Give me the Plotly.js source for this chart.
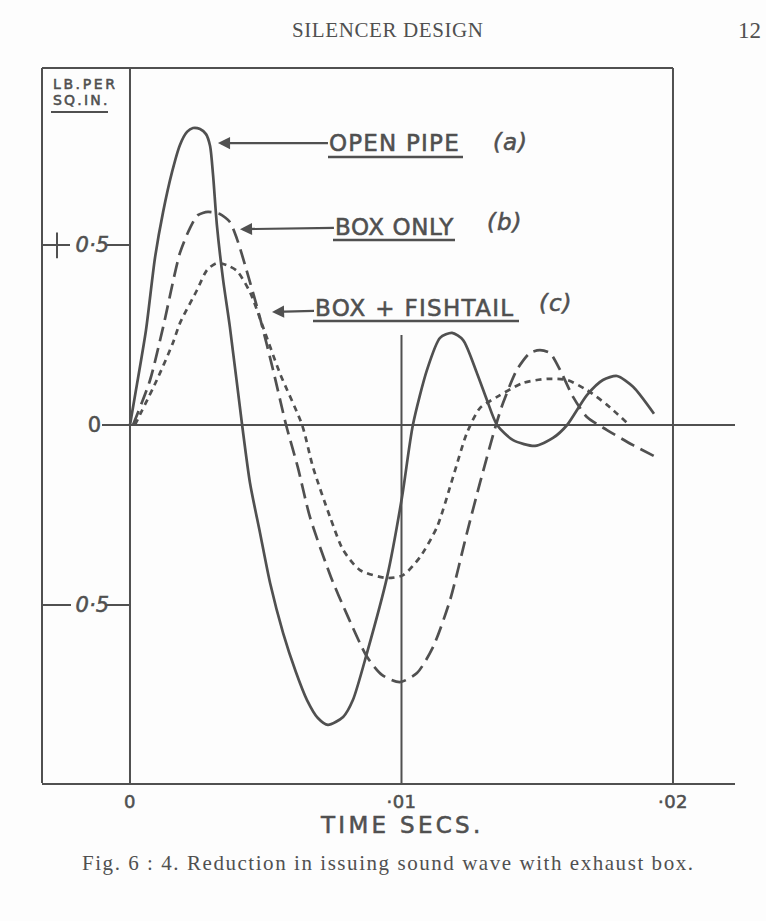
<!DOCTYPE html>
<html><head><meta charset="utf-8">
<script src="https://cdn.plot.ly/plotly-3.0.1.min.js"></script>
<style>html,body{margin:0;padding:0;background:#fdfdfd;}#chart{width:766px;height:921px;}</style>
</head><body><div id="chart"></div>
<script>
// ---- data (time in seconds, pressure in lb per sq.in.) ----
const timeOpenPipe = [0, 0.00022, 0.00059, 0.00092, 0.00122, 0.00155, 0.00184, 0.0021, 0.00232, 0.00258, 0.0028, 0.00295, 0.00306, 0.0032, 0.00343, 0.00368, 0.00413, 0.00442, 0.00479, 0.00516, 0.00564, 0.00611, 0.00652, 0.00692, 0.00729, 0.00785, 0.00821, 0.00873, 0.00947, 0.01002, 0.01042, 0.01094, 0.01142, 0.01186, 0.01227, 0.01278, 0.01315, 0.01352, 0.01411, 0.01492, 0.01558, 0.0161, 0.01683, 0.01742, 0.01794, 0.01853, 0.0193];
const pressOpenPipe = [0, 0.097, 0.264, 0.464, 0.592, 0.703, 0.778, 0.814, 0.825, 0.822, 0.808, 0.775, 0.694, 0.556, 0.403, 0.272, 0, -0.161, -0.3, -0.439, -0.578, -0.686, -0.764, -0.814, -0.833, -0.811, -0.764, -0.633, -0.422, -0.2, 0, 0.153, 0.242, 0.256, 0.236, 0.144, 0.069, 0, -0.042, -0.058, -0.036, 0, 0.083, 0.125, 0.136, 0.106, 0.031];

const timeBoxOnly = [0.00011, 0.00074, 0.00122, 0.00184, 0.00221, 0.0025, 0.00287, 0.00331, 0.00368, 0.00394, 0.00424, 0.00479, 0.00527, 0.00575, 0.00618, 0.00663, 0.0074, 0.00803, 0.00873, 0.00928, 0.00994, 0.01057, 0.01116, 0.01179, 0.01241, 0.01289, 0.01348, 0.01374, 0.01425, 0.01473, 0.0151, 0.01547, 0.01584, 0.01632, 0.01683, 0.01757, 0.01853, 0.01945];
const pressBoxOnly = [0, 0.125, 0.272, 0.478, 0.547, 0.583, 0.592, 0.586, 0.564, 0.517, 0.444, 0.297, 0.153, 0, -0.117, -0.256, -0.422, -0.533, -0.644, -0.694, -0.714, -0.689, -0.617, -0.486, -0.3, -0.161, 0, 0.061, 0.153, 0.2, 0.208, 0.2, 0.153, 0.078, 0.022, -0.014, -0.056, -0.092];

const timeFishtail = [0.00018, 0.00099, 0.00158, 0.00184, 0.00247, 0.00284, 0.0032, 0.00357, 0.00394, 0.00442, 0.0049, 0.00552, 0.00634, 0.00674, 0.00737, 0.00785, 0.00847, 0.00947, 0.01006, 0.01068, 0.01131, 0.0119, 0.01241, 0.01289, 0.01352, 0.01448, 0.01536, 0.0161, 0.01683, 0.01757, 0.01831];
const pressFishtail = [0, 0.125, 0.228, 0.283, 0.375, 0.431, 0.45, 0.444, 0.428, 0.369, 0.272, 0.144, 0, -0.117, -0.256, -0.347, -0.403, -0.425, -0.417, -0.367, -0.283, -0.144, -0.022, 0.047, 0.078, 0.117, 0.128, 0.125, 0.097, 0.056, 0.006];

const seriesNames = ["OPEN PIPE", "BOX ONLY", "BOX + FISHTAIL"];
const seriesTags = ["(a)", "(b)", "(c)"];
const xTickVals = [0, 0.01, 0.02];
const xTickText = ["0", "·01", "·02"];
const yTickVals = [0.5, 0, -0.5];
const yTickText = ["0·5", "0", "0·5"];
const xTitle = "TIME SECS.";
const yUnits = ["LB.PER", "SQ.IN."];

// ---- layout helpers ----
const INK = "#505050";
const HAND = "DejaVu Sans";
const SERIF = "Liberation Serif";
const PX = px => (px - 42) / 693;
const PY = py => (783 - py) / 715;
const XMIN = -0.003241, XMAX = 0.022284, YMIN = -0.99444, YMAX = 0.99167;

const traces = [
  {x: timeOpenPipe, y: pressOpenPipe, name: seriesNames[0] + " " + seriesTags[0], mode: "lines",
   line: {color: INK, width: 2.7, shape: "spline", smoothing: 0.7}},
  {x: timeBoxOnly, y: pressBoxOnly, name: seriesNames[1] + " " + seriesTags[1], mode: "lines",
   line: {color: INK, width: 2.7, shape: "spline", smoothing: 0.7, dash: "15px,7px"}},
  {x: timeFishtail, y: pressFishtail, name: seriesNames[2] + " " + seriesTags[2], mode: "lines",
   line: {color: INK, width: 2.7, shape: "spline", smoothing: 0.7, dash: "6px,5px"}}
];

const ln = (o) => Object.assign({type: "line", layer: "below", line: {color: INK, width: 2}}, o);
const shapes = [
  ln({xref: "paper", yref: "paper", x0: 0, x1: PX(673), y0: 1, y1: 1}),          // top frame
  ln({xref: "paper", yref: "paper", x0: 0, x1: 0, y0: 0, y1: 1}),                // left frame
  ln({xref: "x", yref: "paper", x0: 0.02, x1: 0.02, y0: 0, y1: 1}),              // right frame (.02)
  ln({xref: "x", yref: "paper", x0: 0, x1: 0, y0: 0, y1: 1}),                    // time zero line
  ln({xref: "x", yref: "y", x0: 0.01, x1: 0.01, y0: YMIN, y1: 0.25}),            // .01 line
  ln({xref: "paper", yref: "y", x0: PX(102), x1: 1, y0: 0, y1: 0}),              // pressure zero
  ln({xref: "paper", yref: "y", x0: 0, x1: PX(70), y0: 0.5, y1: 0.5}),           // +0.5 left
  ln({xref: "paper", yref: "y", x0: PX(57), x1: PX(57), y0: 0.463, y1: 0.535}),  // plus cross
  ln({xref: "paper", yref: "y", x0: PX(107), x1: PX(130), y0: 0.5, y1: 0.5}),    // +0.5 right
  ln({xref: "paper", yref: "y", x0: 0, x1: PX(71), y0: -0.5, y1: -0.5}),         // -0.5 left
  ln({xref: "paper", yref: "y", x0: PX(105), x1: PX(130), y0: -0.5, y1: -0.5}),  // -0.5 right
  ln({xref: "paper", yref: "paper", x0: PX(51), x1: PX(108), y0: PY(112), y1: PY(112)}), // unit underline
  ln({xref: "paper", yref: "paper", x0: PX(328), x1: PX(463), y0: PY(157), y1: PY(157), line: {color: INK, width: 2.4}}),
  ln({xref: "paper", yref: "paper", x0: PX(333), x1: PX(455), y0: PY(240), y1: PY(240), line: {color: INK, width: 2.4}}),
  ln({xref: "paper", yref: "paper", x0: PX(313), x1: PX(519), y0: PY(321), y1: PY(321), line: {color: INK, width: 2.4}})
];

const handFont = (s) => ({family: HAND, size: s, color: INK});
const hand = (t, ls) => `<span style="letter-spacing:${ls}px;stroke:${INK};stroke-width:0.55px">${t}</span>`;
const sp = (t, ls) => `<span style="letter-spacing:${ls}px">${t}</span>`;
const annotations = [
  {xref: "paper", yref: "paper", x: PX(388), y: PY(30), text: sp("SILENCER DESIGN", 0.6), showarrow: false,
   font: {family: SERIF, size: 21, color: INK}, xanchor: "center", yanchor: "middle"},
  {xref: "paper", yref: "paper", x: PX(736), y: PY(30), text: "12", showarrow: false,
   font: {family: SERIF, size: 23, color: INK}, xanchor: "left", yanchor: "middle"},
  {xref: "paper", yref: "paper", x: PX(389), y: PY(863), text: sp("Fig. 6 : 4. Reduction in issuing sound wave with exhaust box.", 1.55), showarrow: false,
   font: {family: SERIF, size: 21, color: INK}, xanchor: "center", yanchor: "middle"},
  {xref: "paper", yref: "paper", x: PX(51), y: PY(84), text: hand(yUnits[0], 2.6), showarrow: false,
   font: handFont(14), xanchor: "left", yanchor: "middle"},
  {xref: "paper", yref: "paper", x: PX(51), y: PY(100), text: hand(yUnits[1], 2.2), showarrow: false,
   font: handFont(14), xanchor: "left", yanchor: "middle"},
  {xref: "paper", yref: "paper", x: PX(402), y: PY(825), text: hand(xTitle, 3.3), showarrow: false,
   font: handFont(23), xanchor: "center", yanchor: "middle"},
  // series labels with arrows pointing to curves
  {xref: "x", yref: "y", x: 0.00324, y: 0.783, ax: 177, ay: 0, text: hand(seriesNames[0], 1.2),
   font: handFont(23), showarrow: true, arrowhead: 2, arrowsize: 1.1, arrowwidth: 2.2, arrowcolor: INK, standoff: 0},
  {xref: "x", yref: "y", x: 0.00405, y: 0.544, ax: 155, ay: -2, text: hand(seriesNames[1], 0.6),
   font: handFont(23), showarrow: true, arrowhead: 2, arrowsize: 1.1, arrowwidth: 2.2, arrowcolor: INK, standoff: 0},
  {xref: "x", yref: "y", x: 0.00523, y: 0.314, ax: 143, ay: -4, text: hand(seriesNames[2], 1.3),
   font: handFont(23), showarrow: true, arrowhead: 2, arrowsize: 1.1, arrowwidth: 2.2, arrowcolor: INK, standoff: 0},
  {xref: "paper", yref: "paper", x: PX(510), y: PY(142), text: "<i>" + hand(seriesTags[0], 1) + "</i>", showarrow: false,
   font: handFont(23), xanchor: "center", yanchor: "middle"},
  {xref: "paper", yref: "paper", x: PX(505), y: PY(222), text: "<i>" + hand(seriesTags[1], 1) + "</i>", showarrow: false,
   font: handFont(23), xanchor: "center", yanchor: "middle"},
  {xref: "paper", yref: "paper", x: PX(556), y: PY(303), text: "<i>" + hand(seriesTags[2], 1) + "</i>", showarrow: false,
   font: handFont(23), xanchor: "center", yanchor: "middle"}
];

const yText = yTickText.map((t, i) => yTickVals[i] === 0 ? hand(t, 8) : "<i>" + hand(t, 0) + "</i>");
const xText = xTickText.map(t => hand(t, 0.5));

const layout = {
  width: 766, height: 921,
  margin: {l: 42, r: 31, t: 68, b: 138},
  paper_bgcolor: "#fdfdfd", plot_bgcolor: "rgba(0,0,0,0)",
  showlegend: false,
  xaxis: {range: [XMIN, XMAX], showgrid: false, zeroline: false, showline: true, linecolor: INK, linewidth: 2,
    tickvals: xTickVals, ticktext: xText, ticks: "", ticklabelstandoff: 1,
    tickfont: handFont(18), automargin: false},
  yaxis: {range: [YMIN, YMAX], showgrid: false, zeroline: false, showline: false,
    anchor: "free", position: PX(109), side: "left",
    tickvals: yTickVals, ticktext: yText, ticks: "", tickfont: handFont(21), automargin: false},
  shapes: shapes,
  annotations: annotations
};

Plotly.newPlot("chart", traces, layout, {staticPlot: true, displayModeBar: false});
</script></body></html>
